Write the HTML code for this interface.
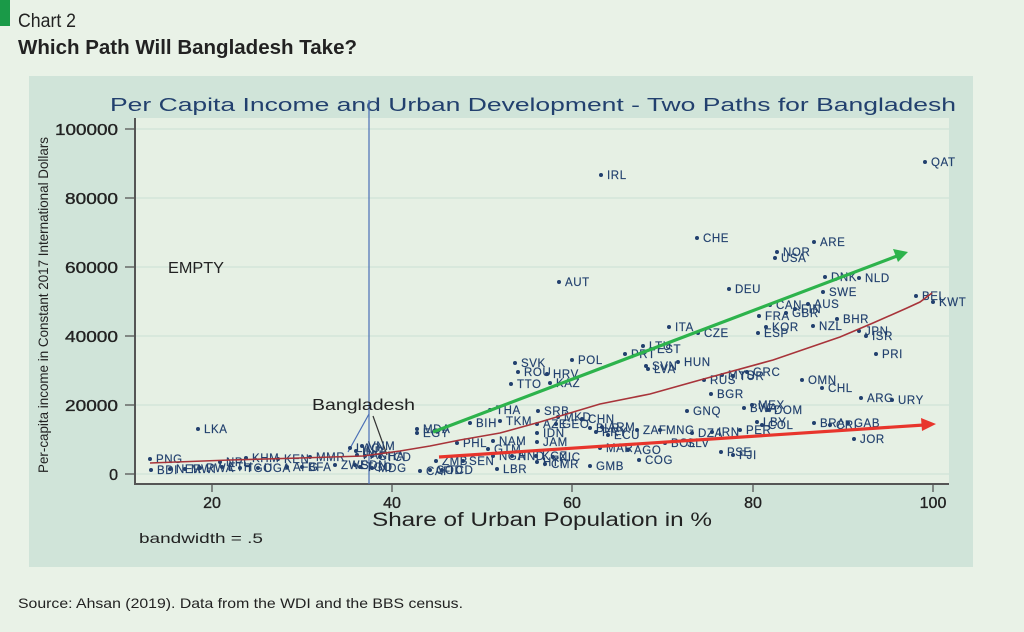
<!DOCTYPE html>
<html><head><meta charset="utf-8"><style>
html,body{margin:0;padding:0;background:#e9f2e7;}
svg{display:block;}
.lb{font-family:"Liberation Sans",sans-serif;font-size:11.5px;fill:#22406e;letter-spacing:0.6px;stroke:#22406e;stroke-width:0.15;}
.tk{font-family:"Liberation Sans",sans-serif;font-size:16px;fill:#222;stroke:#222;stroke-width:0.35;}
</style></head><body>
<svg width="1024" height="632" viewBox="0 0 1024 632" xmlns="http://www.w3.org/2000/svg">
<rect x="0" y="0" width="1024" height="632" fill="#e9f2e7"/>
<rect x="0" y="0" width="10" height="26" fill="#1a9a48"/>
<text x="18" y="27" font-family="Liberation Sans Narrow, Liberation Sans, sans-serif" font-size="19" fill="#222" textLength="58" lengthAdjust="spacingAndGlyphs">Chart 2</text>
<text x="18" y="54" font-family="Liberation Sans, sans-serif" font-weight="bold" font-size="20" fill="#222" textLength="339" lengthAdjust="spacingAndGlyphs">Which Path Will Bangladesh Take?</text>

<rect x="29" y="76" width="944" height="491" fill="#d0e4d9"/>
<rect x="135" y="118" width="814" height="366" fill="#e6f0e4"/>
<text x="110" y="111" font-family="Liberation Sans, sans-serif" font-size="18" fill="#22406e" textLength="846" lengthAdjust="spacingAndGlyphs">Per Capita Income and Urban Development - Two Paths for Bangladesh</text>

<!-- gridlines -->
<g stroke="#d4e6da" stroke-width="1.5">
<line x1="136" y1="129" x2="949" y2="129"/>
<line x1="136" y1="198" x2="949" y2="198"/>
<line x1="136" y1="267" x2="949" y2="267"/>
<line x1="136" y1="336" x2="949" y2="336"/>
<line x1="136" y1="405" x2="949" y2="405"/>
<line x1="136" y1="474" x2="949" y2="474"/>
</g>
<!-- axes -->
<g stroke="#555" stroke-width="2">
<line x1="135" y1="118" x2="135" y2="485"/>
<line x1="134" y1="484" x2="949" y2="484"/>
</g>
<g stroke="#555" stroke-width="1.3">
<line x1="125" y1="129" x2="135" y2="129"/>
<line x1="125" y1="198" x2="135" y2="198"/>
<line x1="125" y1="267" x2="135" y2="267"/>
<line x1="125" y1="336" x2="135" y2="336"/>
<line x1="125" y1="405" x2="135" y2="405"/>
<line x1="125" y1="474" x2="135" y2="474"/>
<line x1="212" y1="484" x2="212" y2="492"/>
<line x1="392" y1="484" x2="392" y2="492"/>
<line x1="572" y1="484" x2="572" y2="492"/>
<line x1="753" y1="484" x2="753" y2="492"/>
<line x1="933" y1="484" x2="933" y2="492"/>
</g>
<g class="tk" text-anchor="end">
<text x="118" y="135" textLength="63" lengthAdjust="spacingAndGlyphs">100000</text>
<text x="118" y="204" textLength="53" lengthAdjust="spacingAndGlyphs">80000</text>
<text x="118" y="273" textLength="53" lengthAdjust="spacingAndGlyphs">60000</text>
<text x="118" y="342" textLength="53" lengthAdjust="spacingAndGlyphs">40000</text>
<text x="118" y="411" textLength="53" lengthAdjust="spacingAndGlyphs">20000</text>
<text x="118" y="480">0</text>
</g>
<g class="tk" text-anchor="middle">
<text x="212" y="508">20</text>
<text x="392" y="508">40</text>
<text x="572" y="508">60</text>
<text x="753" y="508">80</text>
<text x="933" y="508">100</text>
</g>
<text x="372" y="526" font-family="Liberation Sans, sans-serif" font-size="19" fill="#222" textLength="340" lengthAdjust="spacingAndGlyphs">Share of Urban Population in %</text>
<text x="139" y="543" font-family="Liberation Sans, sans-serif" font-size="14" fill="#222" textLength="124" lengthAdjust="spacingAndGlyphs">bandwidth = .5</text>
<text transform="translate(48,473) rotate(-90)" font-family="Liberation Sans Narrow, Liberation Sans, sans-serif" font-size="14" fill="#222" textLength="336" lengthAdjust="spacingAndGlyphs">Per-capita income in Constant 2017 International Dollars</text>

<text x="168" y="273" font-family="Liberation Sans, sans-serif" font-size="16" fill="#222" textLength="56" lengthAdjust="spacingAndGlyphs">EMPTY</text>

<!-- Bangladesh line -->
<line x1="369" y1="100" x2="369" y2="484" stroke="#4a6fb5" stroke-width="1.2"/>
<line x1="369" y1="414" x2="348" y2="452" stroke="#4a6fb5" stroke-width="1.2"/>
<line x1="373" y1="416" x2="387" y2="455" stroke="#333" stroke-width="1.2"/>
<text x="312" y="410" font-family="Liberation Sans, sans-serif" font-size="16" fill="#222" textLength="103" lengthAdjust="spacingAndGlyphs">Bangladesh</text>

<!-- points -->
<g fill="#22406e">
<circle cx="925" cy="162" r="2"/><circle cx="601" cy="175" r="2"/><circle cx="697" cy="238" r="2"/><circle cx="814" cy="242" r="2"/>
<circle cx="777" cy="252" r="2"/><circle cx="775" cy="258" r="2"/><circle cx="559" cy="282" r="2"/><circle cx="729" cy="289" r="2"/>
<circle cx="825" cy="277" r="2"/><circle cx="859" cy="278" r="2"/><circle cx="823" cy="292" r="2"/><circle cx="916" cy="296" r="2"/>
<circle cx="933" cy="302" r="2"/><circle cx="770" cy="305" r="2"/><circle cx="808" cy="304" r="2"/><circle cx="795" cy="309" r="2"/>
<circle cx="786" cy="313" r="2"/><circle cx="759" cy="316" r="2"/><circle cx="837" cy="319" r="2"/><circle cx="669" cy="327" r="2"/>
<circle cx="766" cy="327" r="2"/><circle cx="813" cy="326" r="2"/><circle cx="698" cy="333" r="2"/><circle cx="758" cy="333" r="2"/>
<circle cx="859" cy="331" r="2"/><circle cx="866" cy="336" r="2"/><circle cx="643" cy="346" r="2"/><circle cx="651" cy="349" r="2"/>
<circle cx="625" cy="354" r="2"/><circle cx="572" cy="360" r="2"/><circle cx="876" cy="354" r="2"/><circle cx="678" cy="362" r="2"/>
<circle cx="646" cy="366" r="2"/><circle cx="648" cy="369" r="2"/><circle cx="515" cy="363" r="2"/><circle cx="518" cy="372" r="2"/>
<circle cx="547" cy="374" r="2"/><circle cx="511" cy="384" r="2"/><circle cx="550" cy="383" r="2"/><circle cx="747" cy="372" r="2"/>
<circle cx="722" cy="375" r="2"/><circle cx="733" cy="376" r="2"/><circle cx="704" cy="380" r="2"/><circle cx="802" cy="380" r="2"/>
<circle cx="822" cy="388" r="2"/><circle cx="711" cy="394" r="2"/><circle cx="861" cy="398" r="2"/><circle cx="892" cy="400" r="2"/>
<circle cx="687" cy="411" r="2"/><circle cx="744" cy="408" r="2"/><circle cx="752" cy="405" r="2"/><circle cx="768" cy="410" r="2"/>
<circle cx="757" cy="422" r="2"/><circle cx="762" cy="425" r="2"/><circle cx="814" cy="423" r="2"/><circle cx="830" cy="425" r="2"/>
<circle cx="848" cy="423" r="2"/><circle cx="712" cy="432" r="2"/><circle cx="740" cy="430" r="2"/><circle cx="692" cy="433" r="2"/>
<circle cx="665" cy="443" r="2"/><circle cx="854" cy="439" r="2"/><circle cx="721" cy="452" r="2"/><circle cx="733" cy="455" r="2"/>
<circle cx="490" cy="410" r="2"/><circle cx="538" cy="411" r="2"/><circle cx="558" cy="417" r="2"/><circle cx="582" cy="419" r="2"/>
<circle cx="470" cy="423" r="2"/><circle cx="500" cy="421" r="2"/><circle cx="537" cy="424" r="2"/><circle cx="556" cy="424" r="2"/>
<circle cx="590" cy="428" r="2"/><circle cx="602" cy="427" r="2"/><circle cx="596" cy="432" r="2"/><circle cx="608" cy="435" r="2"/>
<circle cx="637" cy="430" r="2"/><circle cx="660" cy="430" r="2"/><circle cx="537" cy="433" r="2"/><circle cx="537" cy="442" r="2"/>
<circle cx="493" cy="441" r="2"/><circle cx="457" cy="443" r="2"/><circle cx="488" cy="449" r="2"/><circle cx="493" cy="456" r="2"/>
<circle cx="512" cy="456" r="2"/><circle cx="536" cy="456" r="2"/><circle cx="553" cy="457" r="2"/><circle cx="537" cy="462" r="2"/>
<circle cx="545" cy="464" r="2"/><circle cx="497" cy="469" r="2"/><circle cx="590" cy="466" r="2"/><circle cx="600" cy="448" r="2"/>
<circle cx="628" cy="450" r="2"/><circle cx="639" cy="460" r="2"/><circle cx="463" cy="461" r="2"/><circle cx="436" cy="461" r="2"/>
<circle cx="442" cy="470" r="2"/><circle cx="420" cy="471" r="2"/><circle cx="430" cy="470" r="2"/><circle cx="372" cy="468" r="2"/>
<circle cx="360" cy="467" r="2"/><circle cx="417" cy="429" r="2"/><circle cx="417" cy="433" r="2"/><circle cx="198" cy="429" r="2"/>
<circle cx="150" cy="459" r="2"/><circle cx="151" cy="470" r="2"/><circle cx="170" cy="469" r="2"/><circle cx="185" cy="469" r="2"/>
<circle cx="200" cy="468" r="2"/><circle cx="222" cy="467" r="2"/><circle cx="240" cy="468" r="2"/><circle cx="258" cy="468" r="2"/>
<circle cx="287" cy="467" r="2"/><circle cx="302" cy="467" r="2"/><circle cx="335" cy="465" r="2"/><circle cx="355" cy="465" r="2"/>
<circle cx="220" cy="462" r="2"/><circle cx="246" cy="458" r="2"/><circle cx="278" cy="459" r="2"/><circle cx="310" cy="457" r="2"/>
<circle cx="350" cy="448" r="2"/><circle cx="362" cy="446" r="2"/><circle cx="356" cy="451" r="2"/><circle cx="357" cy="455" r="2"/>
<circle cx="372" cy="456" r="2"/><circle cx="380" cy="457" r="2"/><circle cx="365" cy="456" r="2"/>
</g>
<g class="lb">
<text x="931" y="166">QAT</text><text x="607" y="179">IRL</text><text x="703" y="242">CHE</text><text x="820" y="246">ARE</text>
<text x="783" y="256">NOR</text><text x="781" y="262">USA</text><text x="565" y="286">AUT</text><text x="735" y="293">DEU</text>
<text x="831" y="281">DNK</text><text x="865" y="282">NLD</text><text x="829" y="296">SWE</text><text x="922" y="300">BEL</text>
<text x="939" y="306">KWT</text><text x="776" y="309">CAN</text><text x="814" y="308">AUS</text><text x="801" y="313">FIN</text>
<text x="792" y="317">GBR</text><text x="765" y="320">FRA</text><text x="843" y="323">BHR</text><text x="675" y="331">ITA</text>
<text x="772" y="331">KOR</text><text x="819" y="330">NZL</text><text x="704" y="337">CZE</text><text x="764" y="337">ESP</text>
<text x="865" y="335">JPN</text><text x="872" y="340">ISR</text><text x="649" y="350">LTU</text><text x="657" y="353">EST</text>
<text x="631" y="358">PRT</text><text x="578" y="364">POL</text><text x="882" y="358">PRI</text><text x="684" y="366">HUN</text>
<text x="652" y="370">SVN</text><text x="654" y="373">LVA</text><text x="521" y="367">SVK</text><text x="524" y="376">ROU</text>
<text x="553" y="378">HRV</text><text x="517" y="388">TTO</text><text x="556" y="387">KAZ</text><text x="753" y="376">GRC</text>
<text x="728" y="379">MYS</text><text x="739" y="380">TUR</text><text x="710" y="384">RUS</text><text x="808" y="384">OMN</text>
<text x="828" y="392">CHL</text><text x="717" y="398">BGR</text><text x="867" y="402">ARG</text><text x="898" y="404">URY</text>
<text x="693" y="415">GNQ</text><text x="750" y="412">BWA</text><text x="758" y="409">MEX</text><text x="774" y="414">DOM</text>
<text x="763" y="426">LBY</text><text x="768" y="429">COL</text><text x="820" y="427">BRA</text><text x="836" y="429">CRI</text>
<text x="854" y="427">GAB</text><text x="718" y="436">IRN</text><text x="746" y="434">PER</text><text x="698" y="437">DZA</text>
<text x="671" y="447">BOL</text><text x="687" y="447">SLV</text><text x="860" y="443">JOR</text><text x="727" y="456">PSE</text><text x="739" y="459">FJI</text>
<text x="496" y="414">THA</text><text x="544" y="415">SRB</text><text x="564" y="421">MKD</text><text x="588" y="423">CHN</text>
<text x="476" y="427">BIH</text><text x="506" y="425">TKM</text><text x="543" y="428">AZE</text><text x="562" y="428">GEO</text>
<text x="596" y="432">BLR</text><text x="608" y="431">ARM</text><text x="602" y="436">PRY</text><text x="614" y="439">ECU</text>
<text x="643" y="434">ZAF</text><text x="666" y="434">MNG</text><text x="543" y="437">IDN</text><text x="543" y="446">JAM</text>
<text x="499" y="445">NAM</text><text x="463" y="447">PHL</text><text x="494" y="453">GTM</text><text x="499" y="460">NGA</text>
<text x="518" y="460">HND</text><text x="542" y="460">KGZ</text><text x="559" y="461">NIC</text><text x="543" y="466">HTI</text>
<text x="551" y="468">CMR</text><text x="503" y="473">LBR</text><text x="596" y="470">GMB</text><text x="606" y="452">MAR</text>
<text x="634" y="454">AGO</text><text x="645" y="464">COG</text><text x="469" y="465">SEN</text><text x="442" y="465">ZMB</text>
<text x="448" y="474">TCD</text><text x="426" y="475">CAF</text><text x="436" y="474">COD</text><text x="378" y="472">MDG</text>
<text x="366" y="471">TGO</text><text x="423" y="433">MDA</text><text x="423" y="437">EGY</text><text x="204" y="433">LKA</text>
<text x="156" y="463">PNG</text><text x="157" y="474">BDI</text><text x="176" y="473">NER</text><text x="191" y="473">MWI</text>
<text x="206" y="472">RWA</text><text x="228" y="471">ETH</text><text x="246" y="472">TGO</text><text x="264" y="472">UGA</text>
<text x="293" y="471">AFG</text><text x="308" y="471">BFA</text><text x="341" y="469">ZWE</text><text x="361" y="469">SDN</text>
<text x="226" y="466">NPL</text><text x="252" y="462">KHM</text><text x="284" y="463">KEN</text><text x="316" y="461">MMR</text>
<text x="356" y="452">LAO</text><text x="368" y="450">VNM</text><text x="362" y="455">IND</text><text x="363" y="459">PAK</text>
<text x="378" y="460">GHA</text><text x="386" y="461">TCD</text>
</g>

<!-- lowess curve -->
<path d="M150,463 L230,460 L300,458 L363,456 L400,451 L430,446 L460,440 L500,433 L540,422 L600,404 L650,394 L700,380 L773,360 L840,337 L873,323 L907,308 L920,302 L932,293" fill="none" stroke="#a8343a" stroke-width="1.6"/>

<!-- green arrow -->
<line x1="433" y1="432" x2="897" y2="256" stroke="#2db34c" stroke-width="3.2"/>
<polygon points="908,252 893,249 898,262" fill="#2db34c"/>
<!-- red arrow -->
<line x1="439" y1="457" x2="924" y2="425" stroke="#e8352c" stroke-width="3.2"/>
<polygon points="936,424 921,418 922,431" fill="#e8352c"/>

<text x="18" y="608" font-family="Liberation Sans Narrow, Liberation Sans, sans-serif" font-size="14" fill="#222" textLength="445" lengthAdjust="spacingAndGlyphs">Source: Ahsan (2019). Data from the WDI and the BBS census.</text>
</svg>
</body></html>
